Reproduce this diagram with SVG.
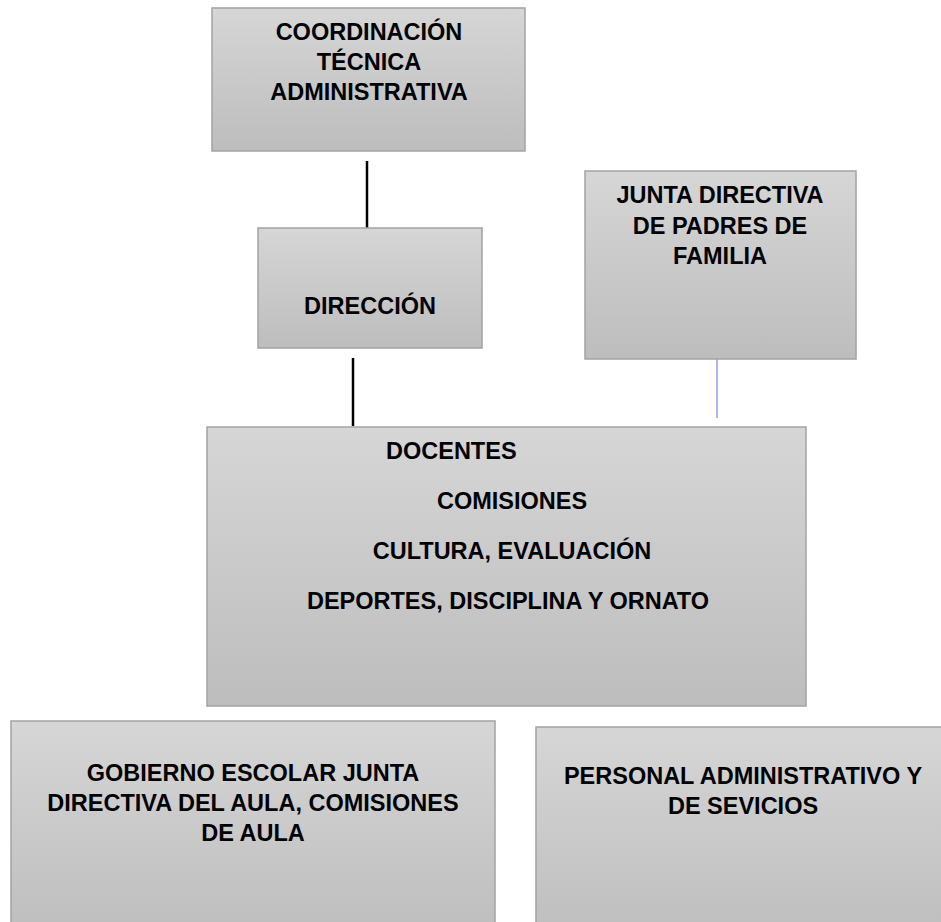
<svg xmlns="http://www.w3.org/2000/svg" width="941" height="922" viewBox="0 0 941 922">
<defs>
<linearGradient id="g" x1="0" y1="0" x2="0" y2="1">
<stop offset="0" stop-color="#d6d6d6"/>
<stop offset="1" stop-color="#bdbdbd"/>
</linearGradient>
<style>
.box{fill:url(#g);stroke:#a3a3a3;stroke-width:1.5}
.t{font-family:"Liberation Sans",Arial,sans-serif;font-weight:bold;font-size:23.5px;fill:#000;text-anchor:middle}
.tl{text-anchor:start}
.blk{stroke:#000;stroke-width:2.5;fill:none}
.blu{stroke:#6f8fd0;stroke-width:1.2;fill:none}
</style>
</defs>
<rect width="941" height="922" fill="#fff"/>
<g id="connectors">
<line class="blk" x1="367" y1="161" x2="367" y2="228"/>
<line class="blk" x1="353" y1="358" x2="353" y2="426"/>
<line class="blu" x1="717" y1="359" x2="717" y2="418"/>
</g>
<g id="coordinacion">
<rect class="box" x="212" y="8" width="313" height="143"/>
<text class="t" x="369" y="40">COORDINACIÓN</text>
<text class="t" x="369" y="70">TÉCNICA</text>
<text class="t" x="369" y="100">ADMINISTRATIVA</text>
</g>
<g id="direccion">
<rect class="box" x="258" y="228" width="224" height="120"/>
<text class="t" x="370" y="314">DIRECCIÓN</text>
</g>
<g id="junta">
<rect class="box" x="585" y="171" width="271" height="188"/>
<text class="t" x="720" y="203">JUNTA DIRECTIVA</text>
<text class="t" x="720" y="234">DE PADRES DE</text>
<text class="t" x="720" y="264">FAMILIA</text>
</g>
<g id="docentes">
<rect class="box" x="207" y="427" width="599" height="279"/>
<text class="t tl" x="386" y="459">DOCENTES</text>
<text class="t" x="512" y="509">COMISIONES</text>
<text class="t" x="512" y="559">CULTURA, EVALUACIÓN</text>
<text class="t" x="508" y="609">DEPORTES, DISCIPLINA Y ORNATO</text>
</g>
<g id="gobierno">
<rect class="box" x="11" y="721" width="484" height="220"/>
<text class="t" x="253" y="781">GOBIERNO ESCOLAR JUNTA</text>
<text class="t" x="253" y="811">DIRECTIVA DEL AULA, COMISIONES</text>
<text class="t" x="253" y="841">DE AULA</text>
</g>
<g id="personal">
<rect class="box" x="536" y="727" width="420" height="220"/>
<text class="t" x="743" y="784">PERSONAL ADMINISTRATIVO Y</text>
<text class="t" x="743" y="814">DE SEVICIOS</text>
</g>
</svg>
